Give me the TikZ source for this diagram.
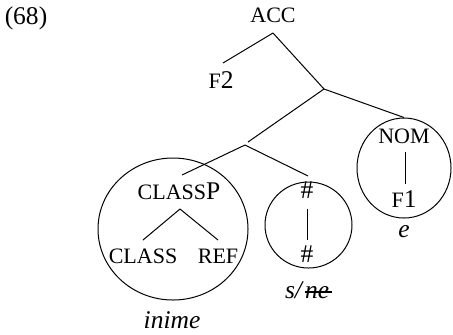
\documentclass[tikz,border=0pt]{standalone}
\usepackage{fontspec}
\setmainfont{Liberation Serif}
\usetikzlibrary{shapes.geometric}
\newcommand{\featsc}[1]{{\fontsize{11}{13}\selectfont #1}}

\begin{document}
\begin{tikzpicture}[x=0.5pt,y=-0.5pt,line width=0.5pt,
  lab/.style={inner sep=0pt,anchor=base,font=\fontsize{12.75}{15}\selectfont},
  ring/.style={draw,ellipse,inner sep=0pt}]
\useasboundingbox (0,0) rectangle (453,334);
\node[lab] (num) at (26,24) {(68)};
% upper part of the tree
\node[lab] (acc) at (273,22) {\featsc{ACC}};
\coordinate (acctop) at (273,33);
\coordinate (fleft) at (223,63);
\node[lab] (ftwo) at (221,88) {\featsc{F}2};
\coordinate (mid) at (324,89);
\coordinate (midleft) at (248,142);
\coordinate (low) at (245,145);
\coordinate (lowleft) at (182,175);
\coordinate (lowright) at (308,176);
\draw (acctop) -- (fleft);
\draw (acctop) -- (mid);
\draw (mid) -- (midleft);
\draw (low) -- (lowleft);
\draw (low) -- (lowright);
% circled parts
\node[ring,minimum width=75pt,minimum height=71pt] (classring) at (173,229) {};
\node[ring,minimum width=43.5pt,minimum height=43pt] (numring) at (308.5,225) {};
\node[ring,minimum width=47pt,minimum height=50pt] (nomring) at (404,168) {};
\draw (mid) -- (nomring.north);
% inside the big circle
\node[lab] (classp) at (179,199) {\featsc{CLASS}P};
\coordinate (cptop) at (180,209);
\coordinate (cpleft) at (143,240);
\coordinate (cpright) at (218,240);
\draw (cptop) -- (cpleft);
\draw (cptop) -- (cpright);
\node[lab] (class) at (143,263) {\featsc{CLASS}};
\node[lab] (ref) at (218,263) {\featsc{REF}};
\node[lab] (inime) at (172,328) {\textit{inime}};
% inside the small circle
\node[lab] (hashtop) at (307,198) {\#};
\node[lab] (hashlow) at (307,262) {\#};
\coordinate (hup) at (307,209);
\coordinate (hdown) at (307,240);
\draw (hup) -- (hdown);
\node[lab,anchor=base east] (sne) at (304.5,298) {\textit{s/}};
\node[lab,anchor=base west] (ne) at (sne.base east) {\textit{ne}};
\draw[line width=0.9pt] ([yshift=2.9pt]ne.base west) -- ([yshift=2.9pt,xshift=1pt]ne.base east);
% inside the right circle
\node[lab] (nom) at (404,143) {\featsc{NOM}};
\node[lab] (fone) at (404,207) {\featsc{F}1};
\coordinate (nup) at (405,152);
\coordinate (ndown) at (405,184);
\draw (nup) -- (ndown);
\node[lab] (e) at (404,237) {\textit{e}};
\end{tikzpicture}
\end{document}
